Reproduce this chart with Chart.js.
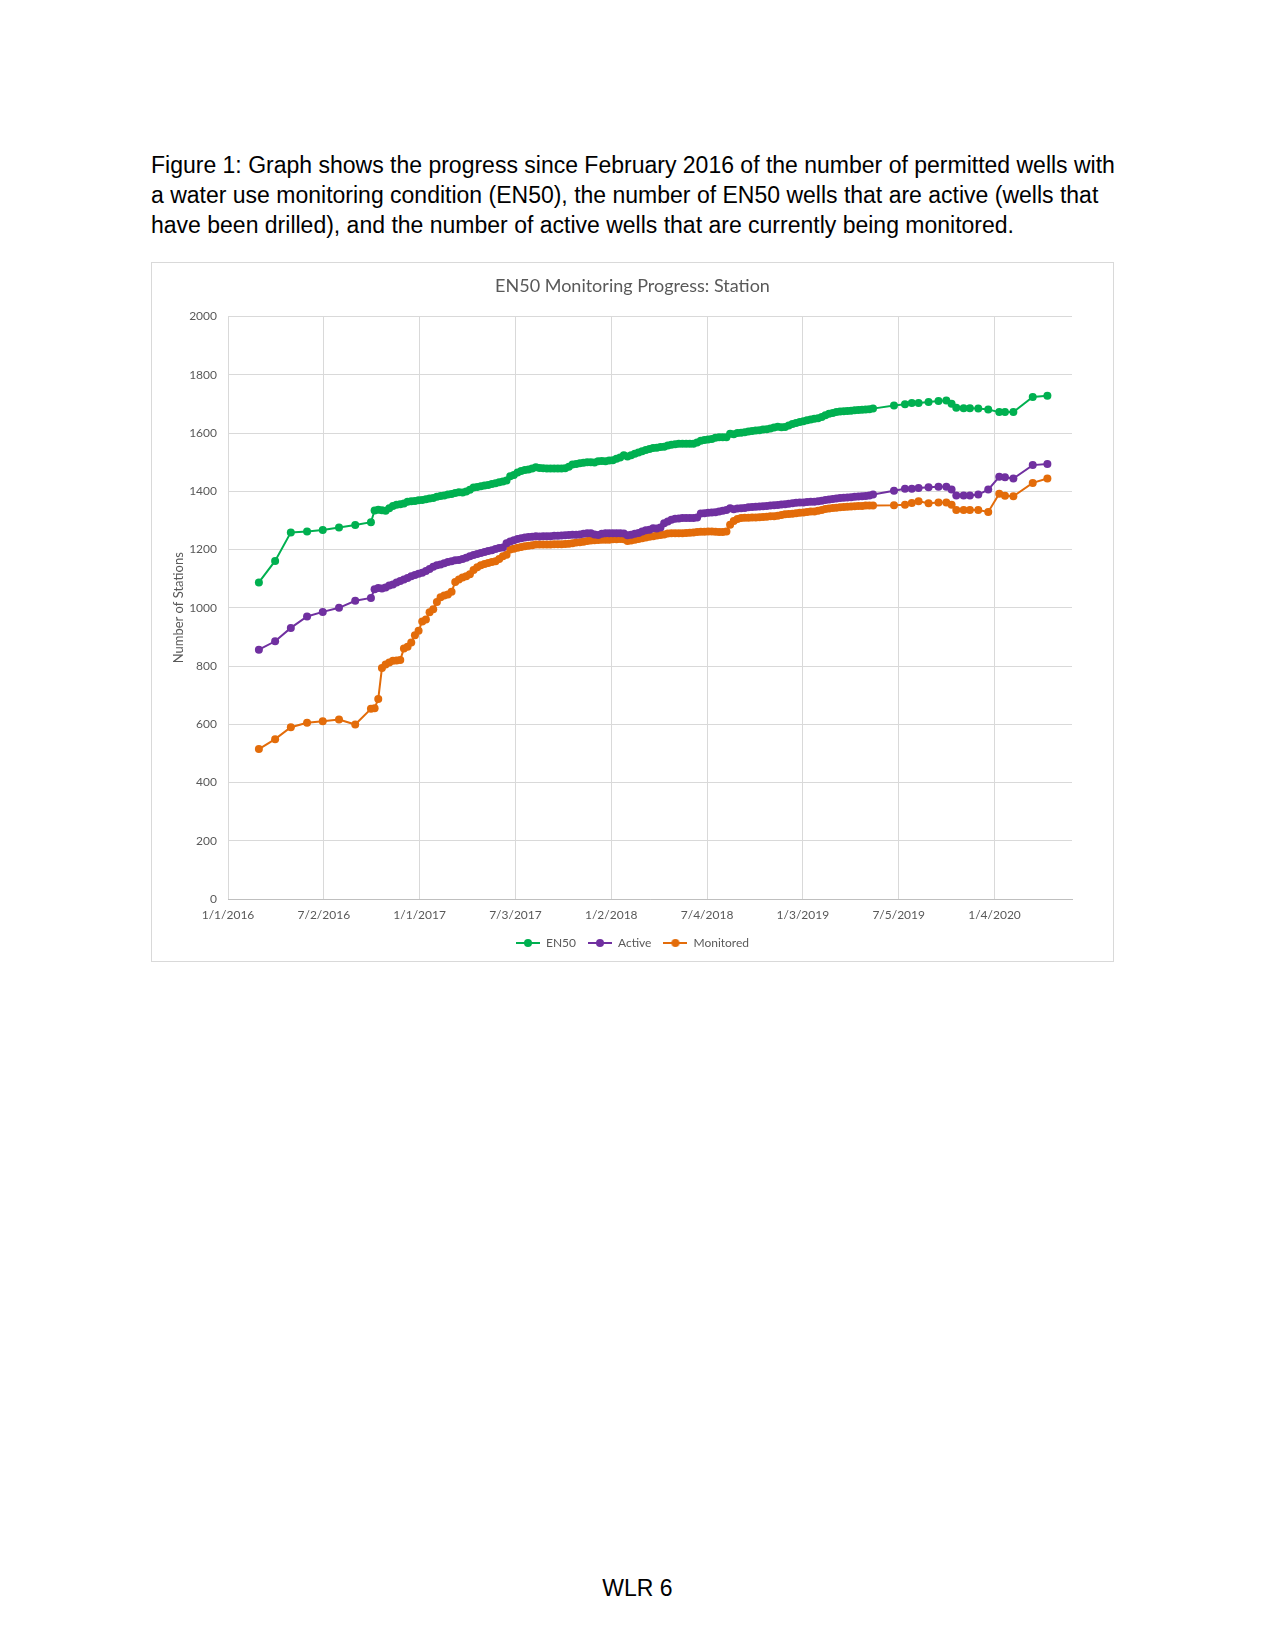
<!DOCTYPE html>
<html>
<head>
<meta charset="utf-8">
<script src="https://cdn.jsdelivr.net/npm/chart.js@4.4.1/dist/chart.umd.min.js"></script>
<style>
  body { margin: 0; background: #fff; }
  .page { position: relative; width: 1275px; height: 1651px; }
  .caption {
    position: absolute; left: 151px; top: 150px;
    font-family: "Liberation Sans", Arial, sans-serif; font-size: 23px; line-height: 30px;
    color: #000; white-space: nowrap;
  }
  .box {
    position: absolute; left: 151px; top: 262px; width: 963px; height: 700px;
    border: 1px solid #d9d9d9; box-sizing: border-box;
  }
  .footer {
    position: absolute; left: 0; width: 1275px; top: 1573px; text-align: center;
    font-family: "Liberation Sans", Arial, sans-serif; font-size: 23px; line-height: 30px;
  }
</style>
</head>
<body>
<div class="page">
  <div class="caption">Figure 1: Graph shows the progress since February 2016 of the number of permitted wells with<br>a water use monitoring condition (EN50), the number of EN50 wells that are active (wells that<br>have been drilled), and the number of active wells that are currently being monitored.</div>
  <div class="box"><canvas id="progressChart"></canvas></div>
  <div class="footer">WLR 6</div>
</div>
<script>
// report dates: month ends in 2016, weekly from Oct 2016, then irregular in 2019-2020
const dates = [
  '2016-02-29','2016-03-31','2016-04-30','2016-05-31','2016-06-30','2016-07-31','2016-08-31','2016-09-30',
  '2016-10-07','2016-10-14','2016-10-21','2016-10-28','2016-11-04','2016-11-11','2016-11-18','2016-11-25',
  '2016-12-02','2016-12-09','2016-12-16','2016-12-23','2016-12-30',
  '2017-01-06','2017-01-13','2017-01-20','2017-01-27','2017-02-03','2017-02-10','2017-02-17','2017-02-24',
  '2017-03-03','2017-03-10','2017-03-17','2017-03-24','2017-03-31','2017-04-07','2017-04-14','2017-04-21','2017-04-28',
  '2017-05-05','2017-05-12','2017-05-19','2017-05-26','2017-06-02','2017-06-09','2017-06-16','2017-06-23','2017-06-30',
  '2017-07-07','2017-07-14','2017-07-21','2017-07-28','2017-08-04','2017-08-11','2017-08-18','2017-08-25',
  '2017-09-01','2017-09-08','2017-09-15','2017-09-22','2017-09-29','2017-10-06','2017-10-13','2017-10-20','2017-10-27',
  '2017-11-03','2017-11-10','2017-11-17','2017-11-24','2017-12-01','2017-12-08','2017-12-15','2017-12-22','2017-12-29',
  '2018-01-05','2018-01-12','2018-01-19','2018-01-26','2018-02-02','2018-02-09','2018-02-16','2018-02-23',
  '2018-03-02','2018-03-09','2018-03-16','2018-03-23','2018-03-30','2018-04-06','2018-04-13','2018-04-20','2018-04-27',
  '2018-05-04','2018-05-11','2018-05-18','2018-05-25','2018-06-01','2018-06-08','2018-06-15','2018-06-22','2018-06-29',
  '2018-07-06','2018-07-13','2018-07-20','2018-07-27','2018-08-03','2018-08-10','2018-08-17','2018-08-24','2018-08-31',
  '2018-09-07','2018-09-14','2018-09-21','2018-09-28','2018-10-05','2018-10-12','2018-10-19','2018-10-26',
  '2018-11-02','2018-11-09','2018-11-16','2018-11-23','2018-11-30','2018-12-07','2018-12-14','2018-12-21','2018-12-28',
  '2019-01-04','2019-01-11','2019-01-18','2019-01-25','2019-02-01','2019-02-08','2019-02-15','2019-02-22',
  '2019-03-01','2019-03-08','2019-03-15','2019-03-22','2019-03-29','2019-04-05','2019-04-12','2019-04-19','2019-04-26',
  '2019-05-03','2019-05-10','2019-05-17',
  '2019-06-26','2019-07-17','2019-07-30','2019-08-12','2019-08-31','2019-09-19','2019-10-04','2019-10-14','2019-10-23',
  '2019-11-06','2019-11-18','2019-12-04','2019-12-23','2020-01-13','2020-01-24','2020-02-09','2020-03-17','2020-04-14'
];

const en50 = [
  1087,1161,1259,1262,1267,1276,1284,1294,
  1334,1337,1335,1333,1342,1350,1354,1356,1358,1364,
  1366,1367,1369,1370,1373,1375,1377,1381,1384,1386,
  1389,1391,1394,1397,1396,1399,1405,1413,1415,1417,
  1420,1422,1425,1428,1431,1434,1437,1452,1456,1465,
  1470,1473,1475,1478,1483,1480,1479,1478,1478,1478,
  1478,1478,1479,1484,1492,1494,1496,1498,1500,1500,
  1499,1503,1504,1503,1506,1507,1512,1516,1524,1520,
  1524,1529,1533,1538,1542,1545,1549,1550,1552,1553,
  1557,1560,1562,1563,1563,1563,1563,1563,1568,1574,
  1576,1578,1580,1584,1586,1586,1586,1598,1596,1600,
  1601,1603,1605,1607,1609,1610,1612,1613,1616,1619,
  1622,1620,1621,1626,1631,1635,1638,1641,1644,1647,
  1649,1651,1655,1661,1666,1669,1672,1674,1675,1676,
  1677,1678,1679,1680,1681,1682,1684,
  1695,1699,1703,1703,1707,1710,1712,1701,1687,1685,1685,1684,1681,1672,1672,1672,1724,1728
];

const active = [
  856,885,931,970,986,1000,1024,1034,
  1064,1068,1066,1070,1077,1080,1087,1092,1097,1102,
  1108,1113,1117,1120,1126,1133,1141,1146,1149,1153,
  1157,1160,1163,1164,1168,1172,1177,1181,1185,1188,
  1192,1195,1198,1202,1205,1207,1222,1228,1232,1236,
  1239,1241,1243,1244,1246,1245,1246,1246,1246,1247,
  1247,1248,1249,1250,1251,1251,1252,1254,1256,1256,
  1252,1250,1254,1256,1256,1256,1256,1256,1255,1249,
  1251,1254,1257,1262,1266,1268,1273,1272,1276,1290,
  1296,1302,1306,1307,1308,1308,1308,1308,1310,1324,
  1325,1326,1327,1328,1331,1333,1336,1342,1338,1341,
  1342,1343,1345,1346,1347,1348,1349,1350,1351,1352,
  1353,1355,1356,1357,1359,1361,1362,1362,1363,1364,
  1364,1366,1368,1370,1372,1374,1375,1377,1378,1379,
  1380,1381,1382,1383,1384,1386,1389,
  1402,1409,1409,1411,1414,1416,1416,1406,1386,1386,1386,1389,1406,1450,1448,1444,1490,1494
];

const monitored = [
  515,549,590,605,610,616,599,653,
  655,687,793,805,812,818,819,821,860,866,
  881,906,921,953,960,985,995,1020,1036,1042,
  1046,1055,1089,1097,1104,1108,1115,1130,1139,1146,
  1150,1154,1157,1160,1168,1177,1182,1200,1203,1206,
  1209,1211,1213,1215,1217,1217,1217,1217,1217,1218,
  1218,1218,1219,1220,1222,1224,1225,1227,1229,1231,
  1232,1233,1234,1234,1234,1235,1235,1236,1235,1229,
  1231,1234,1236,1239,1241,1244,1246,1248,1250,1252,
  1255,1256,1256,1256,1256,1257,1258,1259,1260,1261,
  1261,1262,1262,1261,1260,1260,1262,1285,1298,1305,
  1308,1309,1309,1310,1310,1311,1312,1313,1314,1314,
  1316,1319,1321,1322,1323,1325,1326,1327,1329,1331,
  1331,1333,1336,1339,1341,1343,1344,1345,1346,1347,
  1348,1349,1350,1350,1351,1351,1351,
  1352,1354,1360,1366,1359,1362,1362,1354,1336,1336,1336,1336,1329,1392,1385,1383,1429,1444
];

// x axis ticks every 183 days from 1/1/2016
const xTickLabels = ['1/1/2016','7/2/2016','1/1/2017','7/3/2017','1/2/2018','7/4/2018','1/3/2019','7/5/2019','1/4/2020'];
const xTickDays = [0, 183, 366, 549, 732, 915, 1098, 1281, 1464];
const xMaxDay = 1612;

const seriesNames = ['EN50', 'Active', 'Monitored'];
const seriesColors = ['#00B050', '#7030A0', '#E36C0A'];

const origin = Date.UTC(2016, 0, 1);
function dayOf(s) {
    const p = s.split('-');
    return Math.round((Date.UTC(+p[0], +p[1] - 1, +p[2]) - origin) / 86400000);
}
const days = dates.map(dayOf);

// small line-with-dot swatch for the legend, like Excel's
function legendMarker(color) {
    const c = document.createElement('canvas');
    c.width = 24; c.height = 10;
    const g = c.getContext('2d');
    g.strokeStyle = color; g.lineWidth = 2;
    g.beginPath(); g.moveTo(0, 5); g.lineTo(24, 5); g.stroke();
    g.fillStyle = color;
    g.beginPath(); g.arc(12, 5, 4, 0, Math.PI * 2); g.fill();
    return c;
}

document.addEventListener('DOMContentLoaded', () => {
    const ctx = document.getElementById('progressChart').getContext('2d');
    const values = [en50, active, monitored];
    const gray = '#595959';
    const font = 'Lato, "Open Sans", sans-serif';

    new Chart(ctx, {
        type: 'line',
        data: {
            datasets: values.map((vals, i) => ({
                label: seriesNames[i],
                data: vals.map((v, j) => ({ x: days[j], y: v })),
                borderColor: seriesColors[i],
                backgroundColor: seriesColors[i],
                borderWidth: 2,
                pointStyle: 'circle',
                pointRadius: 4,
                pointBorderWidth: 0,
                tension: 0
            }))
        },
        options: {
            responsive: true,
            maintainAspectRatio: false,
            animation: false,
            devicePixelRatio: 1,
            layout: { padding: { top: 0, right: 0, bottom: 2, left: 0 } },
            plugins: {
                title: {
                    display: true,
                    text: 'EN50 Monitoring Progress: Station',
                    color: gray,
                    font: { family: font, size: 18, weight: 'normal' },
                    padding: { top: 12, bottom: 20 }
                },
                legend: {
                    position: 'bottom',
                    labels: {
                        color: gray,
                        font: { family: font, size: 12 },
                        usePointStyle: true,
                        pointStyleWidth: 24,
                        padding: 12,
                        generateLabels: (chart) => chart.data.datasets.map((ds, i) => ({
                            text: ds.label,
                            fontColor: gray,
                            pointStyle: legendMarker(seriesColors[i]),
                            strokeStyle: seriesColors[i],
                            fillStyle: seriesColors[i],
                            lineWidth: 0,
                            datasetIndex: i
                        }))
                    }
                },
                tooltip: { enabled: false }
            },
            scales: {
                x: {
                    type: 'linear',
                    min: 0,
                    max: xMaxDay,
                    afterBuildTicks: (scale) => {
                        scale.ticks = xTickDays.map(v => ({ value: v }));
                    },
                    afterFit: (scale) => {
                        scale.height = 26;
                        scale.paddingRight = 41;
                    },
                    ticks: {
                        color: gray,
                        font: { family: font, size: 12 },
                        padding: 9,
                        maxRotation: 0,
                        autoSkip: false,
                        callback: (v, i) => xTickLabels[i]
                    },
                    grid: { color: '#d9d9d9', drawTicks: false },
                    border: { color: '#bfbfbf' }
                },
                y: {
                    min: 0,
                    max: 2000,
                    afterFit: (scale) => { scale.width = 76; },
                    ticks: {
                        stepSize: 200,
                        color: gray,
                        font: { family: font, size: 12 },
                        padding: 11,
                        callback: (v) => String(v)
                    },
                    grid: { color: '#d9d9d9', drawTicks: false },
                    border: { display: false },
                    title: {
                        display: true,
                        text: 'Number of Stations',
                        color: gray,
                        font: { family: font, size: 13 },
                        padding: { top: 19, bottom: 0 }
                    }
                }
            }
        }
    });
});
</script>
</body>
</html>
